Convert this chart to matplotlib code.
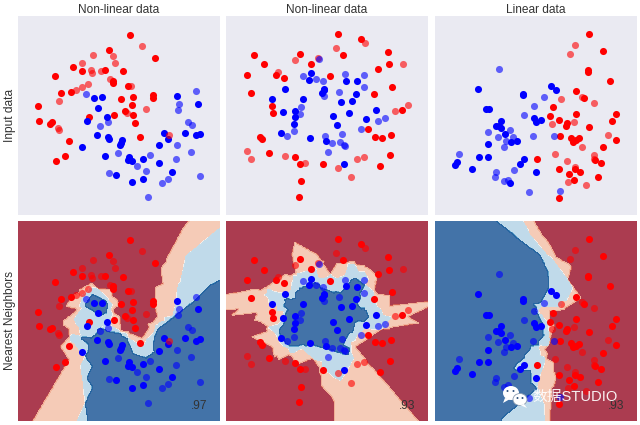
import numpy as np
import matplotlib
matplotlib.use("Agg")
import matplotlib.pyplot as plt
from matplotlib.patches import Ellipse, Polygon

# Point positions (panel units; y grows downward)
p1_train_red = [(391,104),(328,151),(466,174),(220,201),(246,212),(315,211),(370,214),(166,229),(338,243),(339,250),(385,257),(184,280),(214,275),(400,290),(362,296),(459,286),(458,295),(115,319),(397,314),(376,333),(399,345),(342,344),(267,350),(118,363),(155,367),(149,372),(405,369),(207,422),(420,412),(194,469),(169,483)]
p1_test_red = [(426,139),(279,165),(339,167),(345,189),(247,188),(273,210),(277,218),(302,213),(331,238),(392,257),(265,252),(246,262),(227,270),(177,303),(439,327),(381,339),(175,384),(177,389),(507,406)]
p1_train_blue = [(283,293),(307,292),(532,288),(594,311),(294,324),(322,351),(262,362),(290,405),(324,410),(326,416),(555,399),(491,399),(503,417),(599,402),(589,406),(367,420),(363,428),(361,434),(245,441),(476,436),(315,468),(386,470),(385,480),(395,484),(429,476),(476,489),(517,515),(347,524),(429,538),(396,547)]
p1_test_blue = [(589,274),(259,282),(538,311),(535,330),(563,365),(577,375),(324,367),(301,378),(530,435),(574,455),(355,458),(449,466),(528,477),(412,498),(439,514),(327,519),(599,528),(505,536),(487,548),(444,591)]

p2_train_red = [(355,103),(424,116),(504,156),(240,161),(370,166),(101,165),(131,193),(272,192),(506,193),(475,207),(168,224),(193,234),(80,225),(330,228),(517,261),(94,279),(463,282),(156,319),(160,339),(547,329),(445,388),(121,410),(125,418),(466,411),(486,414),(513,405),(148,458),(226,472),(511,466),(240,491),(310,493),(480,498),(243,544),(238,590)]
p2_test_red = [(434,130),(349,145),(293,175),(224,181),(549,191),(174,215),(564,315),(526,333),(81,452),(93,476),(194,468),(431,470),(410,476),(254,490),(355,503),(392,532)]
p2_train_blue = [(273,220),(266,240),(378,243),(410,244),(195,267),(311,266),(312,270),(307,279),(407,282),(155,297),(248,297),(362,306),(395,302),(469,329),(226,332),(190,337),(225,352),(340,349),(386,340),(439,358),(221,371),(352,374),(184,399),(269,413),(318,423),(372,492)]
p2_test_blue = [(298,176),(250,227),(289,238),(310,244),(374,223),(433,224),(433,262),(358,275),(311,287),(243,322),(240,343),(473,363),(494,355),(423,388),(221,394),(201,408),(366,401),(314,408),(336,428),(361,427),(371,434),(376,437),(325,455)]

p3_train_red = [(478,101),(518,152),(473,211),(475,215),(539,242),(438,274),(462,295),(370,322),(439,342),(559,342),(360,349),(387,360),(545,363),(411,370),(407,378),(478,380),(389,407),(558,420),(422,413),(447,415),(438,421),(430,426),(519,442),(321,477),(496,480),(512,489),(388,507),(435,507),(450,515),(418,522),(505,530),(433,540),(386,594)]
p3_test_red = [(435,134),(420,162),(392,297),(456,291),(493,309),(365,371),(433,365),(534,404),(456,440),(375,461),(492,464),(492,478),(410,484),(436,500),(413,547),(467,555)]
p3_train_blue = [(145,267),(364,258),(379,270),(280,282),(279,286),(169,328),(177,328),(213,362),(311,354),(319,366),(333,361),(199,378),(207,378),(213,384),(224,403),(244,425),(261,422),(174,433),(146,470),(174,470),(283,478),(270,491),(82,487),(74,495),(127,506),(318,517),(241,550)]
p3_test_blue = [(208,206),(341,292),(312,317),(283,345),(239,390),(173,396),(205,411),(248,412),(308,407),(371,407),(227,424),(222,441),(88,461),(251,511),(198,517),(196,530),(222,543),(235,539),(297,576),(390,574)]

titles = ["Non-linear data", "Non-linear data", "Linear data"]
scores = [".97", ".93", ".93"]
row_labels = ["Input data", "Nearest Neighbors"]

panels = [
    (p1_train_red, p1_test_red, p1_train_blue, p1_test_blue, (54, 660), (121, 111)),
    (p2_train_red, p2_test_red, p2_train_blue, p2_test_blue, (18, 624), (122, 109)),
    (p3_train_red, p3_test_red, p3_train_blue, p3_test_blue, (14, 620), (121, 105)),
]
px_left = [18, 226, 434.7]
W, H = 640, 425
AX_W = 202
ROW_Y = [(16, 215), (221, 420.7)]
YLIM = (645, 48)
TEXT = "#333333"

plt.rcParams["font.family"] = ["Liberation Sans", "Noto Sans CJK SC", "DejaVu Sans"]
fig = plt.figure(figsize=(W / 100, H / 100), dpi=100, facecolor="white")


def make_ax(left, top, bottom):
    ax = fig.add_axes([left / W, 1 - bottom / H, AX_W / W, (bottom - top) / H])
    ax.set_facecolor("#EAEAF2")
    ax.set_xticks([])
    ax.set_yticks([])
    for s in ax.spines.values():
        s.set_visible(False)
    return ax


def knn_proba(train_r, train_b, xlim, scale, k=3):
    tr = np.array(train_r + train_b, float)
    lab = np.array([0] * len(train_r) + [1] * len(train_b))
    gx = np.arange(xlim[0], xlim[1] + 2.4, 2.4)
    gy = np.arange(YLIM[1], YLIM[0] + 2.4, 2.4)
    xx, yy = np.meshgrid(gx, gy)
    d = ((xx[..., None] - tr[:, 0]) / scale[0]) ** 2 + ((yy[..., None] - tr[:, 1]) / scale[1]) ** 2
    idx = np.argsort(d, axis=-1, kind="stable")[..., :k]
    return xx, yy, lab[idx].mean(axis=-1)


def scatter_all(ax, tr_r, te_r, tr_b, te_b):
    for pts, col, a in ((tr_r, "#FF0000", 1), (tr_b, "#0000FF", 1), (te_r, "#FF0000", .6), (te_b, "#0000FF", .6)):
        arr = np.array(pts)
        ax.scatter(arr[:, 0], arr[:, 1], c=col, alpha=a, s=26, linewidths=0, zorder=3)


for i, (tr_r, te_r, tr_b, te_b, xlim, scale) in enumerate(panels):
    ax = make_ax(px_left[i], *ROW_Y[0])
    scatter_all(ax, tr_r, te_r, tr_b, te_b)
    ax.set_xlim(*xlim)
    ax.set_ylim(*YLIM)
    ax.set_title(titles[i], fontsize=8.6, color=TEXT, pad=2.5)
    if i == 0:
        ax.set_ylabel(row_labels[0], fontsize=8.6, color=TEXT, labelpad=1.5)

    ax = make_ax(px_left[i], *ROW_Y[1])
    xx, yy, zz = knn_proba(tr_r, tr_b, xlim, scale)
    ax.contourf(xx, yy, zz, cmap="RdBu", alpha=.8)
    scatter_all(ax, tr_r, te_r, tr_b, te_b)
    ax.set_xlim(*xlim)
    ax.set_ylim(*YLIM)
    ax.text(xlim[1] - 38, 601, scores[i], fontsize=8.6, color=TEXT, ha="right", va="center", zorder=4)
    if i == 0:
        ax.set_ylabel(row_labels[1], fontsize=8.6, color=TEXT, labelpad=1.5)

# Watermark in figure pixel coordinates
wax = fig.add_axes([0, 0, 1, 1], facecolor="none")
wax.set_xlim(0, W)
wax.set_ylim(H, 0)
wax.axis("off")
wax.add_patch(Ellipse((511, 393), 16, 14, fc="white", ec="none", zorder=5))
wax.add_patch(Polygon([(505, 398), (503, 403), (510, 399)], fc="white", ec="none", zorder=5))
wax.add_patch(Ellipse((520, 399.5), 14, 12, fc="white", ec="#8a9bb0", lw=.6, zorder=6))
wax.add_patch(Polygon([(524, 404), (527, 408), (520, 405)], fc="white", ec="none", zorder=6))
for x, y in ((507.5, 391), (513.5, 391), (517.5, 398), (522.5, 398)):
    wax.add_patch(Ellipse((x, y), 2, 2, fc="#34557f", ec="none", zorder=7))
wax.text(532, 396.5, "数据STUDIO", fontsize=10.6, color="white", alpha=.92, ha="left", va="center", zorder=8,
         family=["Liberation Sans", "Noto Sans CJK SC"])

fig.savefig("out.png", dpi=100, facecolor="white")
